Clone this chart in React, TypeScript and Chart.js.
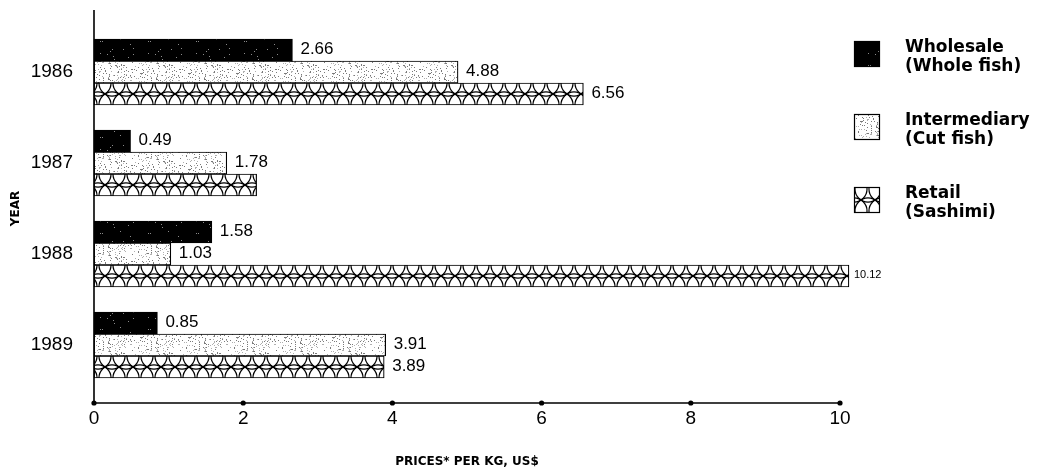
import React, { useEffect, useRef } from "react";
import { Chart, registerables } from "chart.js";

Chart.register(...registerables);

// ---- data ----
const years = ["1986", "1987", "1988", "1989"];
const wholesale = [2.66, 0.49, 1.58, 0.85];
const intermediary = [4.88, 1.78, 1.03, 3.91];
const retail = [6.56, 2.18, 10.12, 3.89];
const wholesaleLabels = ["2.66", "0.49", "1.58", "0.85"];
const intermediaryLabels = ["4.88", "1.78", "1.03", "3.91"];
const retailLabels = ["6.56", "", "10.12", "3.89"];
const legendLines = [
  ["Wholesale", "(Whole fish)"],
  ["Intermediary", "(Cut fish)"],
  ["Retail", "(Sashimi)"],
];
const xTickValues = [0, 2, 4, 6, 8, 10];
const xTitle = "PRICES* PER KG, US$";
const yTitle = "YEAR";

const FONT = "'Liberation Sans', Arial, Helvetica, sans-serif";
const BOLD_FONT = "'DejaVu Sans', 'Liberation Sans', Arial, sans-serif";
const BAR = 22;

function prng(seed: number) {
  let s = seed >>> 0;
  return () => {
    s = (Math.imul(s, 1664525) + 1013904223) >>> 0;
    return s / 4294967296;
  };
}

function darkPattern(): CanvasPattern {
  const c = document.createElement("canvas");
  c.width = 48;
  c.height = 24;
  const g = c.getContext("2d")!;
  g.fillStyle = "#000";
  g.fillRect(0, 0, 48, 24);
  const r = prng(11);
  g.fillStyle = "#8a8a8a";
  for (let i = 0; i < 14; i++) g.fillRect(Math.floor(r() * 48), Math.floor(r() * 24), 1, 1);
  return g.createPattern(c, "repeat")!;
}

function lightPattern(): CanvasPattern {
  const c = document.createElement("canvas");
  c.width = 48;
  c.height = 24;
  const g = c.getContext("2d")!;
  g.fillStyle = "#ffffff";
  g.fillRect(0, 0, 48, 24);
  const r = prng(5);
  for (let i = 0; i < 150; i++) {
    g.fillStyle = r() < 0.5 ? "#7a7a7a" : "#b0b0b0";
    g.fillRect(Math.floor(r() * 48), Math.floor(r() * 24), 1, 1);
  }
  return g.createPattern(c, "repeat")!;
}

function scaleTile(): HTMLCanvasElement {
  const w = 14;
  const h = BAR;
  const c = document.createElement("canvas");
  c.width = w;
  c.height = h;
  const g = c.getContext("2d")!;
  g.fillStyle = "#ffffff";
  g.fillRect(0, 0, w, h);
  g.strokeStyle = "#000";
  g.lineWidth = 1.2;
  const rad = Math.sqrt((w / 2) ** 2 + (h / 2) ** 2);
  for (let ix = -1; ix <= 2; ix++) {
    g.beginPath();
    g.arc(ix * w, 0, rad, 0, Math.PI);
    g.stroke();
    g.beginPath();
    g.arc(ix * w, h, rad, Math.PI, Math.PI * 2);
    g.stroke();
  }
  return c;
}

function alignedPattern(ctx: CanvasRenderingContext2D, tile: HTMLCanvasElement, top: number, fallback: CanvasPattern) {
  try {
    const p = ctx.createPattern(tile, "repeat");
    if (!p) return fallback;
    p.setTransform(new DOMMatrix([1, 0, 0, 1, 0, top]));
    return p;
  } catch (e) {
    return fallback;
  }
}

export default function App() {
  const ref = useRef<HTMLCanvasElement | null>(null);

  useEffect(() => {
    if (!ref.current) return;
    const tile = scaleTile();
    const baseScale = tile.getContext("2d")!.createPattern(tile, "repeat")!;
    const fills: CanvasPattern[] = [darkPattern(), lightPattern(), baseScale];
    const series = [wholesale, intermediary, retail];
    const labelSets = [wholesaleLabels, intermediaryLabels, retailLabels];

    const retailFill = (c: any) => {
      try {
        const ys = c.chart && c.chart.scales && c.chart.scales.y;
        if (c.type !== "data" || !ys) return baseScale;
        const center = ys.getPixelForValue(c.dataIndex);
        if (!isFinite(center)) return baseScale;
        const top = center + BAR - BAR / 2;
        return alignedPattern(c.chart.ctx, tile, top, baseScale);
      } catch (e) {
        return baseScale;
      }
    };

    const extras = {
      id: "extras",
      afterDatasetsDraw(chart: any) {
        const ctx = chart.ctx;
        const xs = chart.scales.x;
        const x0 = xs.getPixelForValue(0);
        const x10 = xs.getPixelForValue(xTickValues[xTickValues.length - 1]);
        const axisY = 403;
        ctx.save();
        // axes lines
        ctx.strokeStyle = "#000";
        ctx.lineWidth = 1.6;
        ctx.beginPath();
        ctx.moveTo(x0, 10);
        ctx.lineTo(x0, axisY);
        ctx.lineTo(x10, axisY);
        ctx.stroke();
        // value labels
        ctx.fillStyle = "#000";
        ctx.textBaseline = "middle";
        ctx.textAlign = "left";
        chart.data.datasets.forEach((_: any, di: number) => {
          const meta = chart.getDatasetMeta(di);
          meta.data.forEach((bar: any, i: number) => {
            const txt = labelSets[di][i];
            if (!txt) return;
            const big = series[di][i] > xs.max;
            ctx.font = `${big ? 11 : 17}px ${FONT}`;
            ctx.fillText(txt, bar.x + (big ? 5 : 8), bar.y - 1);
          });
        });
        // tick dots on x axis
        for (const v of xTickValues) {
          ctx.beginPath();
          ctx.arc(xs.getPixelForValue(v), axisY, 2.6, 0, Math.PI * 2);
          ctx.fill();
        }
        // legend
        const boxX = 854;
        const boxTops = [41, 114, 187];
        const box = 26;
        legendLines.forEach((lines, k) => {
          const top = boxTops[k];
          ctx.fillStyle = k === 2 ? alignedPattern(ctx, tile, top + 2, baseScale) : fills[k];
          ctx.fillRect(boxX, top, box, box);
          ctx.strokeStyle = "#000";
          ctx.lineWidth = 1.2;
          ctx.strokeRect(boxX + 0.5, top + 0.5, box - 1, box - 1);
          ctx.fillStyle = "#000";
          ctx.font = `bold 17px ${BOLD_FONT}`;
          ctx.textBaseline = "middle";
          ctx.fillText(lines[0], 905, top + 7);
          ctx.fillText(lines[1], 905, top + 26);
        });
        ctx.restore();
      },
    };

    const chart = new Chart(ref.current, {
      type: "bar",
      data: {
        labels: years,
        datasets: series.map((vals, di) => ({
          label: legendLines[di].join(" "),
          data: vals,
          backgroundColor: di === 2 ? retailFill : fills[di],
          borderColor: "#000",
          borderWidth: 1.2,
          borderSkipped: false,
          barThickness: BAR,
          clip: false as any,
        })),
      },
      options: {
        animation: false,
        responsive: true,
        maintainAspectRatio: false,
        indexAxis: "y",
        layout: { padding: { left: 0, top: 26.5, right: 216, bottom: 0 } },
        plugins: { legend: { display: false }, tooltip: { enabled: false } },
        scales: {
          x: {
            type: "linear",
            min: 0,
            max: 10,
            afterBuildTicks: (s: any) => {
              s.ticks = xTickValues.map((v) => ({ value: v }));
            },
            afterFit: (s: any) => {
              s.height = 85.5;
              s.paddingLeft = 0;
              s.paddingRight = 0;
            },
            ticks: { color: "#000", font: { family: FONT, size: 19 }, padding: 17 },
            grid: { display: false, drawTicks: false },
            border: { display: false },
            title: {
              display: true,
              text: xTitle,
              color: "#000",
              font: { family: BOLD_FONT, size: 12, weight: "bold" },
              padding: { top: 0, bottom: 7 },
            },
          },
          y: {
            type: "category",
            offset: true,
            afterFit: (s: any) => {
              s.width = 94;
              s.paddingTop = 0;
              s.paddingBottom = 0;
            },
            ticks: {
              color: "#000",
              font: { family: FONT, size: 19 },
              padding: 21,
            },
            grid: { display: false, drawTicks: false },
            border: { display: false },
            title: {
              display: true,
              text: yTitle,
              color: "#000",
              font: { family: BOLD_FONT, size: 12, weight: "bold" },
              padding: { top: 9, bottom: 0 },
            },
          },
        },
      },
      plugins: [extras],
    } as any);
    return () => chart.destroy();
  }, []);

  return (
    <div style={{ position: "fixed", left: 0, top: 0, width: 1056, height: 476, background: "#fff" }}>
      <canvas ref={ref} />
    </div>
  );
}
